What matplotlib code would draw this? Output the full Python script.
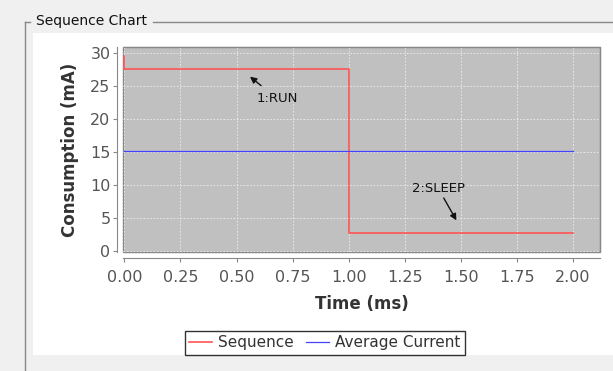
import matplotlib.pyplot as plt
from matplotlib.patches import Rectangle
from matplotlib.lines import Line2D

# sequence data
seq_t = [0.0, 0.0, 1.0, 1.0, 2.0]
seq_ma = [29.6, 27.6, 27.6, 2.7, 2.7]
avg_t = [0.0, 2.0]
avg_ma = [15.15, 15.15]
xticks = [0.0, 0.25, 0.5, 0.75, 1.0, 1.25, 1.5, 1.75, 2.0]
yticks = [0, 5, 10, 15, 20, 25, 30]

W, H = 613, 371
fig = plt.figure(figsize=(W / 100, H / 100), dpi=100, facecolor='#f0f0f0')

# white panel and titled border
fig.patches.append(Rectangle((33 / W, 1 - 355 / H), (W - 33) / W, 322 / H,
                             transform=fig.transFigure, facecolor='white',
                             edgecolor='none', zorder=0))
fig.lines.append(Line2D([25 / W, 25 / W], [1 - 22 / H, 0], transform=fig.transFigure,
                        color='#888888', lw=1))
fig.lines.append(Line2D([25 / W, 30 / W], [1 - 22 / H, 1 - 22 / H], transform=fig.transFigure,
                        color='#888888', lw=1))
fig.lines.append(Line2D([153 / W, 1], [1 - 22 / H, 1 - 22 / H], transform=fig.transFigure,
                        color='#888888', lw=1))
fig.text(36 / W, 1 - 21 / H, 'Sequence Chart', fontsize=10, va='center', ha='left',
         color='#111111')

ax = fig.add_axes([123 / W, 1 - 252 / H, (600 - 123) / W, (252 - 47) / H])
ax.set_zorder(3)
ax.set_facecolor('#c0c0c0')
ax.patch.set_edgecolor('#888888')
ax.patch.set_linewidth(1)
ax.plot(seq_t, seq_ma, color='#ff5555', lw=1.2, label='Sequence')
ax.plot(avg_t, avg_ma, color='#4444ff', lw=0.9, label='Average Current')
ax.set_xlim(-0.006, 2.12)
ax.set_ylim(-0.2, 30.9)
ax.set_xticks(xticks)
ax.set_xticklabels([f'{v:.2f}' for v in xticks])
ax.set_yticks(yticks)
ax.grid(True, color='#eeeeee', linestyle=(0, (2, 2)), lw=0.6)
ax.set_axisbelow(True)
for s in ['top', 'right']:
    ax.spines[s].set_color('#888888')
ax.spines['left'].set_position(('outward', 4))
ax.spines['bottom'].set_position(('outward', 4))
ax.spines['left'].set_color('#888888')
ax.spines['bottom'].set_color('#888888')
ax.tick_params(colors='#888888', labelcolor='#555555', labelsize=11.5, length=3)
ax.tick_params(axis='x', pad=6)
ax.tick_params(axis='y', pad=2)
ax.set_xlabel('Time (ms)', fontsize=12, fontweight='bold', color='#333333', labelpad=7)
ax.set_ylabel('Consumption (mA)', fontsize=12, fontweight='bold', color='#333333', labelpad=8)

ax.annotate('1:RUN', xy=(0.56, 26.4), xytext=(0.68, 23.1), ha='center', va='center',
            fontsize=9.5, color='#111111',
            arrowprops=dict(arrowstyle='-|>', color='#111111', lw=1, shrinkA=4, shrinkB=0))
ax.annotate('2:SLEEP', xy=(1.48, 4.6), xytext=(1.40, 9.4), ha='center', va='center',
            fontsize=9.5, color='#111111',
            arrowprops=dict(arrowstyle='-|>', color='#111111', lw=1, shrinkA=0, shrinkB=0))

leg = fig.legend(loc='center', bbox_to_anchor=(325 / W, 1 - 343 / H), ncol=2,
                 fontsize=11, frameon=True, fancybox=False, handlelength=1.5,
                 handletextpad=0.4, columnspacing=0.8, borderpad=0.3)
leg.get_frame().set_edgecolor('black')
leg.get_frame().set_linewidth(1)
leg.set_zorder(4)
for t in leg.get_texts():
    t.set_color('#333333')

fig.savefig('out.png', dpi=100, facecolor=fig.get_facecolor())
